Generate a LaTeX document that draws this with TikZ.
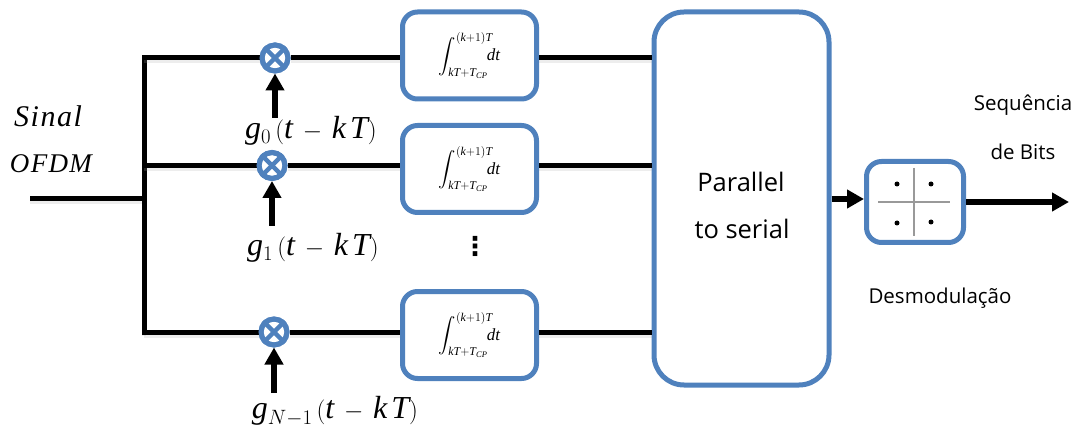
\documentclass[tikz,border=0pt]{standalone}
\usepackage{amsmath}
\usepackage{fontspec}
\setmainfont{Liberation Serif}
\newfontfamily\lbl{Open Sans}
\newfontfamily\mserif[LetterSpace=5]{Liberation Serif}
\newfontfamily\dejavu{DejaVu Sans}
\usetikzlibrary{arrows.meta}
\definecolor{boxblue}{HTML}{4F81BD}
\tikzset{
  x=1pt,y=-1pt,
  intbox/.style={draw=boxblue,line width=5pt,rounded corners=15pt,fill=white,minimum width=134pt,minimum height=87pt,inner sep=0pt,font=\fontsize{17}{19}\selectfont},
  bigbox/.style={draw=boxblue,line width=5pt,rounded corners=30pt,fill=white,minimum width=175pt,minimum height=373pt,inner sep=0pt},
  demodbox/.style={draw=boxblue,line width=5pt,rounded corners=15pt,fill=white,minimum width=97pt,minimum height=81pt,inner sep=0pt},
  mult/.style={circle,draw=boxblue,line width=5pt,fill=white,minimum size=26pt,inner sep=0pt},
  wire/.style={line width=5pt,black,preaction={draw=black!35,opacity=.2,line width=4pt,transform canvas={yshift=-3.5pt}}},
  sigarrow/.style={line width=6pt,black,-{Triangle[length=17pt,width=18pt]},shorten >=0pt},
  gtext/.style={inner sep=0pt,font=\fontsize{32}{36}\selectfont},
  plain/.style={inner sep=0pt,font=\lbl\fontsize{20.5}{24}\selectfont},
  ptext/.style={inner sep=0pt,font=\lbl\fontsize{25.5}{30}\selectfont},
  dot/.style={circle,fill=black,inner sep=0pt,minimum size=5pt},
  gaxis/.style={draw=black!40,line width=1.3pt},
  mlabel/.style={inner sep=0pt,font=\mserif\itshape\fontsize{30}{34}\selectfont},
  mlabelb/.style={inner sep=0pt,font=\mserif\itshape\fontsize{27}{30}\selectfont},
}
\newcommand{\intexpr}{\(\displaystyle\int_{\mathit{kT+T_{CP}}}^{(\mathit{k}+1)\mathit{T}}\!\!\!\mathit{dt}\)}
\newcommand{\gsig}[1]{\(\mathit{g}_{#1}\,(\mathit{t}\,-\,\mathit{k\,T})\)}
\begin{document}
\begin{tikzpicture}
\useasboundingbox (0,0) rectangle (1078,430);
% junctions
\coordinate (in) at (30,199);
\coordinate (jtop) at (144,58);
\coordinate (jmid) at (144,165.5);
\coordinate (jin) at (144,199);
\coordinate (jbot) at (144,332);
% blocks
\node[intbox] (i0) at (469.5,55.5) {\intexpr};
\node[intbox] (i1) at (469.5,169) {\intexpr};
\node[intbox] (i2) at (469.5,335) {\intexpr};
\node[bigbox] (ps) at (741.5,198.5) {};
\node[demodbox] (dm) at (915,202) {};
% multipliers
\node[mult] (m0) at (275,58) {};
\node[mult] (m1) at (272,165.5) {};
\node[mult] (m2) at (274,332) {};
% wires
\draw[wire] (in) -- (jin);
\draw[wire,line cap=rect] (jtop) -- (jbot);
\draw[wire] (jtop) -- (m0.west);
\draw[wire] (jmid) -- (m1.west);
\draw[wire] (jbot) -- (m2.west);
\draw[wire] (m0.east) -- (i0.west |- m0.east);
\draw[wire] (m1.east) -- (i1.west |- m1.east);
\draw[wire] (m2.east) -- (i2.west |- m2.east);
\draw[wire] (i0.east |- m0.east) -- (ps.west |- m0.east);
\draw[wire] (i1.east |- m1.east) -- (ps.west |- m1.east);
\draw[wire] (i2.east |- m2.east) -- (ps.west |- m2.east);
% crosses in the multipliers
\foreach \n in {m0,m1,m2}{
  \draw[boxblue,line width=4.5pt] (\n.north west) -- (\n.south east);
  \draw[boxblue,line width=4.5pt] (\n.north east) -- (\n.south west);
  \draw[boxblue,line width=5pt] (\n) circle (13pt);
}
% multiplier inputs
\node[gtext] (g0) at (311,131) {\gsig{0}};
\node[gtext] (g1) at (313,248) {\gsig{1}};
\node[gtext] (g2) at (335,411) {\gsig{N-1}};
\coordinate (a0) at (275,118);
\coordinate (a1) at (272,226);
\coordinate (a2) at (274,393);
\draw[sigarrow] (a0) -- (m0.south);
\draw[sigarrow] (a1) -- (m1.south);
\draw[sigarrow] (a2) -- (m2.south);
% output
\coordinate (out) at (1069,202);
\draw[sigarrow] (ps.east |- 0,199) -- (dm.west |- 0,199);
\draw[sigarrow] (dm.east) -- (out);
% constellation
\coordinate (hl) at (878,202);
\coordinate (hr) at (950,202);
\coordinate (vt) at (914,168);
\coordinate (vb) at (914,236);
\draw[gaxis] (hl) -- (hr);
\draw[gaxis] (vt) -- (vb);
\node[dot] (d1) at (897,184) {};
\node[dot] (d2) at (931,184) {};
\node[dot] (d3) at (897,223) {};
\node[dot] (d4) at (931,222) {};
% labels
\node[ptext] (par) at (741,182) {Parallel};
\node[ptext] (ser) at (742,229) {to serial};
\node[mlabel] (sinal) at (48,116) {Sinal};
\node[mlabelb] (ofdm) at (51,164) {OFDM};
\node[plain] (seq) at (1023,105) {Sequência};
\node[plain] (bits) at (1023,152) {de Bits};
\node[plain] (des) at (940,298) {Desmodulação};
\node[inner sep=0pt,font=\dejavu\bfseries\fontsize{26}{26}\selectfont] (vd) at (475,246) {⋮};
\end{tikzpicture}
\end{document}
